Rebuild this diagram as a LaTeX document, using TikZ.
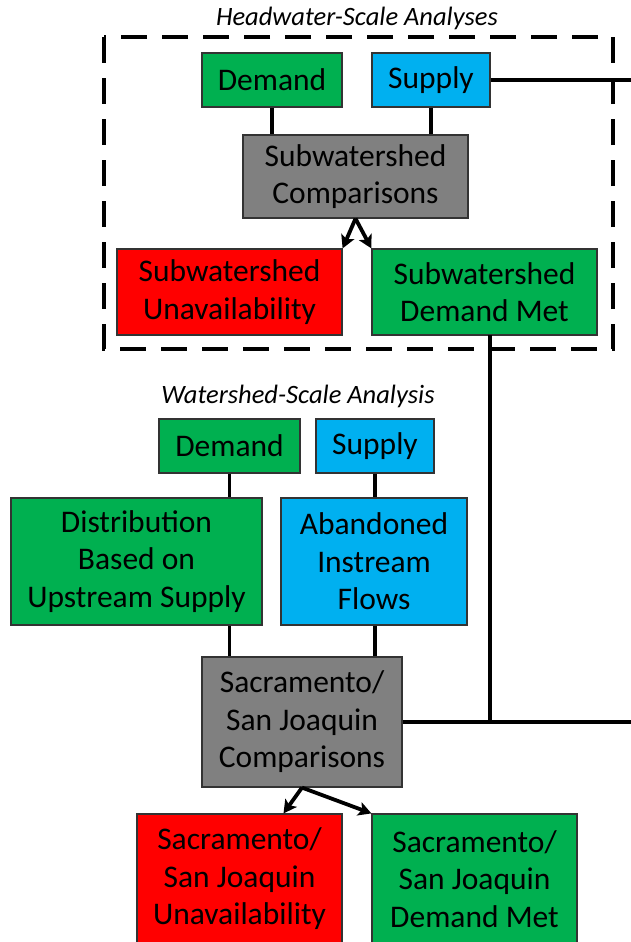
\documentclass[tikz,border=0pt]{standalone}
\usepackage{fontspec}
\setmainfont{Carlito}
\usepackage{tikz}
\usetikzlibrary{positioning,arrows.meta}
\usepackage{xcolor}

\definecolor{boxgreen}{RGB}{0,176,80}
\definecolor{boxblue}{RGB}{0,176,240}
\definecolor{boxred}{RGB}{255,0,0}
\definecolor{boxgray}{RGB}{128,128,128}

\begin{document}
\begin{tikzpicture}[x=1pt,y=-1pt,
  stage/.style={draw=black!80, line width=1.2pt, align=center, inner sep=0pt,
    font=\fontsize{31.5}{37.5}\selectfont},
  demandbox/.style={stage, fill=boxgreen},
  supplybox/.style={stage, fill=boxblue},
  lossbox/.style={stage, fill=boxred},
  compbox/.style={stage, fill=boxgray},
  link/.style={line width=3.8pt},
  flow/.style={line width=3.8pt, -{Stealth[length=13pt,width=14pt,inset=3pt]}},
  heading/.style={font=\itshape\fontsize{26.5}{30}\selectfont}]
\clip (0,0) rectangle (631,942);
\useasboundingbox (0,0) rectangle (631,942);

%Headwater frame
\draw [line width=4pt, dash pattern=on 26pt off 15pt] (104,37) rectangle (613,349);
\node [heading] (hwTitle) at (357,18) {Headwater-Scale Analyses};

%Headwater boxes
\node [demandbox, minimum width=140, minimum height=54] (hwDemand) at (272,80) {Demand};
\node [supplybox, minimum width=118, minimum height=54] (hwSupply) at (431,80) {Supply};
\node [compbox, minimum width=225, minimum height=83] (hwComp) at (355.5,176.5) {Subwatershed\\Comparisons};
\node [lossbox, minimum width=225, minimum height=86] (hwUnavail) at (229.5,292) {Subwatershed\\Unavailability};
\node [demandbox, minimum width=225, minimum height=86] (hwMet) at (484.5,292) {Subwatershed\\Demand Met};

%Watershed boxes
\node [heading] (wsTitle) at (298,396) {Watershed-Scale Analysis};
\node [demandbox, minimum width=141, minimum height=54] (wsDemand) at (229.5,446) {Demand};
\node [supplybox, minimum width=118, minimum height=54] (wsSupply) at (375,446) {Supply};
\node [demandbox, minimum width=251, minimum height=127] (wsDist) at (136.5,561.5) {Distribution\\Based on\\Upstream Supply};
\node [supplybox, minimum width=186, minimum height=127] (wsAband) at (374,561.5) {Abandoned\\Instream\\Flows};
\node [compbox, minimum width=200, minimum height=130] (wsComp) at (302,722) {Sacramento/\\San Joaquin\\Comparisons};
\node [lossbox, minimum width=205, minimum height=130] (wsUnavail) at (239.5,879) {Sacramento/\\San Joaquin\\Unavailability};
\node [demandbox, minimum width=205, minimum height=130] (wsMet) at (474.5,879) {Sacramento/\\San Joaquin\\Demand Met};

%outgoing ends at the right edge
\coordinate (topOut) at (632,80);
\coordinate (botOut) at (632,722);
\coordinate (metDrop) at (490,335);
\coordinate (metJoin) at (490,722);

%connectors
\draw [link] (hwDemand.south) -- (hwDemand.south |- hwComp.north);
\draw [link] (hwSupply.south) -- (hwSupply.south |- hwComp.north);
\draw [link] (hwSupply.east) -- (topOut);
\draw [flow] (hwComp.south) -- (hwUnavail.north east);
\draw [flow] (hwComp.south) -- (hwMet.north west);
\draw [link] (metDrop) -- (metJoin);

\draw [link] (wsDemand.south) -- (wsDemand.south |- wsDist.north);
\draw [link] (wsSupply.south) -- (wsSupply.south |- wsAband.north);
\draw [link] (wsDemand.south |- wsDist.south) -- (wsDemand.south |- wsComp.north);
\draw [link] (wsSupply.south |- wsAband.south) -- (wsSupply.south |- wsComp.north);
\draw [link] (wsComp.east) -- (botOut);
\draw [flow] (wsComp.south) -- ([xshift=44pt]wsUnavail.north);
\draw [flow] (wsComp.south) -- (wsMet.north west);

\end{tikzpicture}
\end{document}
